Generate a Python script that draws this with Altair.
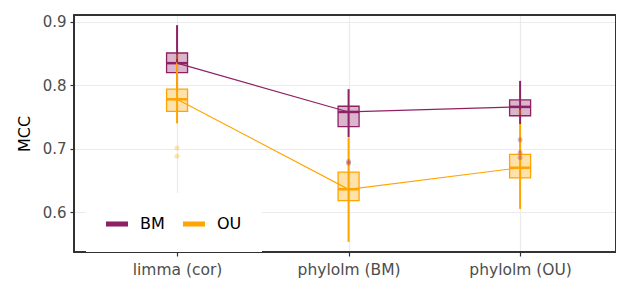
import altair as alt
import pandas as pd

methods = ["limma (cor)", "phylolm (BM)", "phylolm (OU)"]
groups = ["BM", "OU"]
colors = ["#8E2163", "#FFA500"]

bm_lower = [0.790, 0.718, 0.739]
bm_q1 = [0.820, 0.735, 0.752]
bm_median = [0.835, 0.758, 0.766]
bm_q3 = [0.851, 0.767, 0.777]
bm_upper = [0.895, 0.794, 0.807]

ou_lower = [0.740, 0.553, 0.605]
ou_q1 = [0.759, 0.618, 0.654]
ou_median = [0.778, 0.636, 0.670]
ou_q3 = [0.794, 0.663, 0.691]
ou_upper = [0.836, 0.717, 0.739]

out_method = ["phylolm (BM)", "phylolm (BM)", "phylolm (OU)", "phylolm (OU)", "phylolm (OU)",
              "limma (cor)", "limma (cor)", "limma (cor)", "phylolm (OU)"]
out_group = ["BM", "BM", "BM", "BM", "BM", "OU", "OU", "OU", "OU"]
out_value = [0.680, 0.677, 0.714, 0.694, 0.686, 0.845, 0.701, 0.688, 0.758]

rows = []
for g, lo, q1, md, q3, up in [("BM", bm_lower, bm_q1, bm_median, bm_q3, bm_upper),
                              ("OU", ou_lower, ou_q1, ou_median, ou_q3, ou_upper)]:
    for i, m in enumerate(methods):
        rows.append(dict(method=m, group=g, lower=lo[i], q1=q1[i], median=md[i], q3=q3[i], upper=up[i]))
stats = pd.DataFrame(rows)
outliers = pd.DataFrame(dict(method=out_method, group=out_group, value=out_value))

W, H = 542, 237

xenc = alt.X("method:N", sort=methods,
             scale=alt.Scale(type="point", padding=0.58, align=0.518, domain=methods),
             axis=alt.Axis(title=None, labelFontSize=15.5, labelColor="#4D4D4D", labelPadding=6,
                           tickColor="#333333", tickSize=4, tickWidth=1.2, domain=False,
                           grid=True, gridColor="#EBEBEB", gridWidth=1.2, labelAngle=0))
yscale = alt.Scale(domain=[0.537, 0.911], nice=False, zero=False)
yaxis = alt.Axis(title="MCC", titleFontSize=16, titleColor="#000000", titleFontWeight="normal",
                 values=[0.6, 0.7, 0.8, 0.9], format=".1f", labelFontSize=15, labelColor="#4D4D4D",
                 tickColor="#333333", tickSize=4, tickWidth=1.2, domain=False, grid=True,
                 gridColor="#EBEBEB", gridWidth=1.2, titlePadding=10, labelPadding=4)

colorscale = alt.Scale(domain=groups, range=colors)
legend = alt.Legend(title=None, orient="none", legendX=12, legendY=178,
                    direction="horizontal", fillColor="white", padding=20,
                    symbolType="M-1,-0.23H1V0.23H-1Z", symbolSize=484,
                    symbolStrokeWidth=0, symbolOpacity=1, labelFontSize=16, labelColor="#000000",
                    labelOffset=12, columnPadding=18)
colorenc = alt.Color("group:N", scale=colorscale, legend=legend)

base = alt.Chart(stats)
layers = []
for g, c in zip(groups, colors):
    b = base.transform_filter(alt.datum.group == g)
    layers.append(b.mark_rule(color=c, strokeWidth=2).encode(
        x=xenc, y=alt.Y("lower:Q", scale=yscale, axis=yaxis), y2="upper:Q"))
    layers.append(b.mark_bar(size=21, color=c, fillOpacity=0.33, stroke=c, strokeWidth=1.3).encode(
        x=xenc, y=alt.Y("q1:Q", scale=yscale, axis=yaxis), y2="q3:Q"))
    layers.append(b.mark_tick(size=21, thickness=2.5, color=c, opacity=1).encode(
        x=xenc, y=alt.Y("median:Q", scale=yscale, axis=yaxis)))

pts = alt.Chart(outliers).mark_circle(size=25, opacity=0.3).encode(
    x=xenc, y=alt.Y("value:Q", scale=yscale, axis=yaxis), color=colorenc)
lines = base.mark_line(strokeWidth=1.2).encode(
    x=xenc, y=alt.Y("median:Q", scale=yscale, axis=yaxis), color=colorenc,
    detail="group:N")

frame = alt.Chart(stats).mark_rect(fill=None, stroke="#333333", strokeWidth=1.2).encode(
    x=alt.value(0), x2=alt.value(W), y=alt.value(0), y2=alt.value(H))

chart = alt.layer(*layers, pts, lines, frame).properties(
    width=W, height=H,
    autosize=alt.AutoSizeParams(type="none"),
    padding={"left": 66, "top": 7, "right": 0, "bottom": 31},
).configure(font="DejaVu Sans", view=alt.ViewConfig(stroke="#333333", strokeWidth=1.2))

chart.save("out.html", embed_options={"renderer": "svg", "actions": False})
